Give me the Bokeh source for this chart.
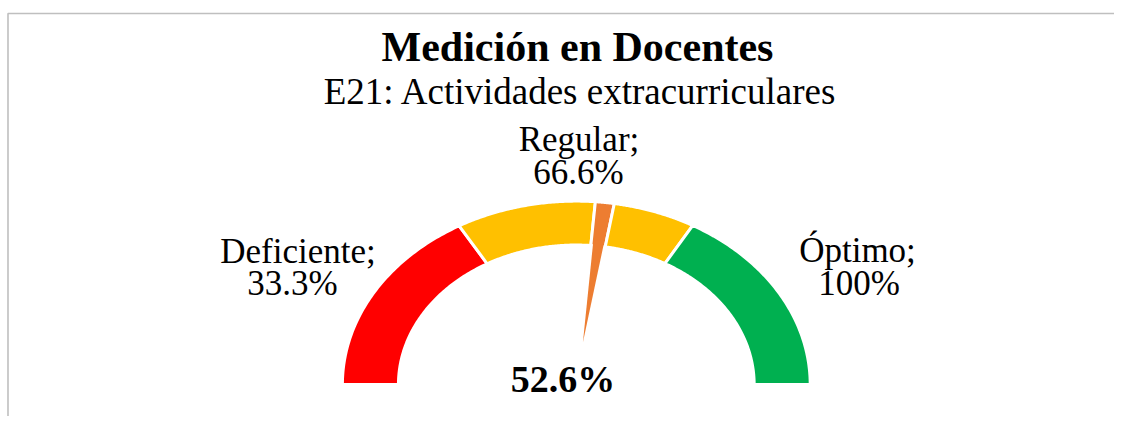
import numpy as np
from bokeh.plotting import figure
from bokeh.models import Range1d, ColumnDataSource
from bokeh.core.properties import value as V
from bokeh.embed import file_html
from bokeh.resources import INLINE

# ---- data ----
title = "Medición en Docentes"
subtitle = "E21: Actividades extracurriculares"
categories = ["Deficiente", "Regular", "Óptimo"]
thresholds = [33.3, 66.6, 100.0]          # cumulative % upper bounds
cat_colors = ["#FF0000", "#FFC000", "#00B050"]
measure = 52.6                              # gauge value in %
pointer_width = 2.6                         # pointer slice width in %
pointer_color = "#ED7D31"

# ---- layout (screen px -> data) ----
W, H = 1114, 416
OFF = 0
CX, CY, RX, RY = 575.8, 384.0, 232.5, 182.3
def dx(px): return (px - CX) / RX
def dy(py): return (CY - py) / RY

R_OUT, R_IN = 1.006, 0.765
FONT = "Liberation Serif"
TY = -12  # baseline correction

p = figure(width=W, height=H, output_backend="svg", toolbar_location=None,
           x_range=Range1d(dx(OFF), dx(OFF + W)), y_range=Range1d(dy(OFF + H), dy(OFF)),
           min_border=0)
p.axis.visible = False
p.grid.visible = False
p.outline_line_color = None
p.background_fill_color = "white"

def ang(f):
    return np.pi * (1 - f / 100.0)

def ring(fa, fb, n=80):
    t = np.linspace(ang(fa), ang(fb), n)
    xs = np.concatenate([R_OUT * np.cos(t), R_IN * np.cos(t[::-1])])
    ys = np.concatenate([R_OUT * np.sin(t), R_IN * np.sin(t[::-1])])
    return xs.tolist(), ys.tolist()

# segments: split the "Regular" band by the pointer slice
bounds = [0.0] + thresholds
segs = []
for i, c in enumerate(categories):
    a, b = bounds[i], bounds[i + 1]
    if a <= measure < b:
        segs.append((a, measure, cat_colors[i]))
        segs.append((measure, measure + pointer_width, pointer_color))
        segs.append((measure + pointer_width, b, cat_colors[i]))
    else:
        segs.append((a, b, cat_colors[i]))

xs_l, ys_l, cols = [], [], []
for a, b, c in segs:
    x, y = ring(a, b)
    xs_l.append(x); ys_l.append(y); cols.append(c)
p.patches(xs="xs", ys="ys", fill_color="cols", line_color="white", line_width=3,
          source=ColumnDataSource(dict(xs=xs_l, ys=ys_l, cols=cols)))

# needle (triangle from near centre to the inner edge of the pointer slice)
fm = measure + pointer_width / 2
r_tip, r_base = 0.232, R_IN + 0.03
ta, tb, tm = ang(measure + 0.35), ang(measure + pointer_width - 0.35), ang(fm)
p.patch([r_tip * np.cos(tm), r_base * np.cos(ta), r_base * np.cos(tb)],
        [r_tip * np.sin(tm), r_base * np.sin(ta), r_base * np.sin(tb)],
        fill_color=pointer_color, line_color=None)

# frame border (top and left visible)
bx = dx(7.5); by = dy(13)
p.line([bx, bx, dx(1200)], [dy(500), by, by], line_color="#BFBFBF", line_width=1.6)

def txt(s, x, y, size, bold=False):
    p.text(x=[dx(x)], y=[dy(y + TY)], text=[s], text_align="center",
           text_baseline="alphabetic", text_font=V(FONT),
           text_font_size=f"{size}px", text_color="black",
           text_font_style="bold" if bold else "normal")

txt(title, 577, 58, 42, bold=True)
txt(subtitle, 580, 103, 37)

labels_pos = [((297.5, 263), (292, 295)),
              ((578.5, 151), (578, 184)),
              ((857, 262), (858.5, 295))]
for i, c in enumerate(categories):
    (x1, y1), (x2, y2) = labels_pos[i]
    txt(c + ";", x1, y1, 35)
    txt(f"{thresholds[i]:g}%", x2, y2, 35)

txt(f"{measure:.1f}%", 562.5, 390, 38, bold=True)

open("out.html", "w").write(file_html(p, INLINE))
